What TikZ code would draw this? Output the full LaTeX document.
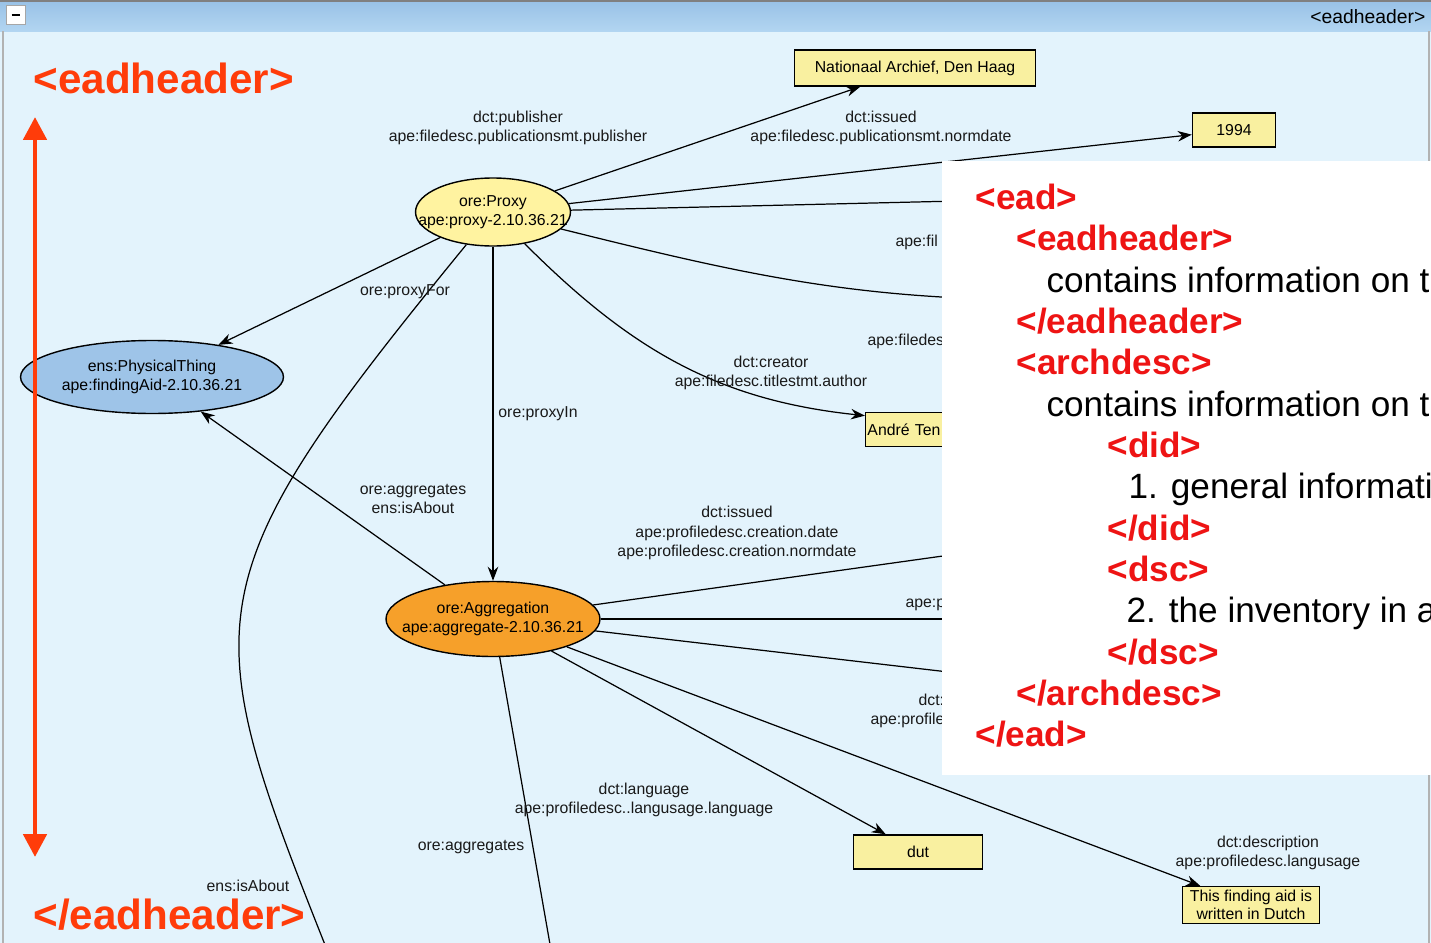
\documentclass[tikz,border=0pt]{standalone}
\usepackage{fontspec}
\setmainfont{Liberation Sans}
\usepackage{xcolor}
\usetikzlibrary{arrows.meta,shapes.geometric}

\definecolor{canvas}{HTML}{E3F3FC}
\definecolor{barTop}{HTML}{98C1E6}
\definecolor{barBottom}{HTML}{B2D5F1}
\definecolor{proxyYellow}{HTML}{FFF3A0}
\definecolor{literalYellow}{HTML}{F9F0A0}
\definecolor{thingBlue}{HTML}{9EC4E8}
\definecolor{aggrOrange}{HTML}{F6A02A}
\definecolor{slideRed}{HTML}{FF3C0A}
\definecolor{tagRed}{HTML}{EE1414}

\newcommand{\graphfont}{\fontsize{9}{11}\selectfont}

\begin{document}
\begin{tikzpicture}[x=0.02cm,y=-0.02cm,>={Stealth[length=8pt,width=6pt]},line width=0.7pt,
   resource/.style={ellipse,draw,line width=0.8pt,inner xsep=-12pt,inner ysep=0pt,align=center,font=\graphfont},
   literal value/.style={rectangle,draw,line width=0.8pt,fill=literalYellow,inner sep=1pt,align=center,font=\graphfont},
   edge label/.style={align=center,font=\graphfont,text=black!90,inner sep=0pt},
   slide tag/.style={font=\fontsize{24}{28}\selectfont\bfseries,text=slideRed,inner sep=0pt,anchor=west},
   ead text/.style={font=\fontsize{20}{24}\selectfont,inner sep=0pt,anchor=base west},
   ead tag/.style={ead text,font=\fontsize{20}{24}\selectfont\bfseries,text=tagRed}]

  % window
  \useasboundingbox (0,0) rectangle (1431,943);
  \clip (0,0) rectangle (1431,943);
  \fill[canvas] (0,0) rectangle (1431,943);
  \shade[top color=barTop,bottom color=barBottom] (0,0) rectangle (1431,31);
  \draw[gray,line width=1.2pt] (0,0.5) -- (1431,0.5);
  \draw[gray!60] (3,31) -- (3,943);
  \draw[gray!60] (1429,31) -- (1429,943);
  \node[draw=gray!70,fill=white,minimum width=0.38cm,minimum height=0.38cm,inner sep=0pt] (collapse) at (16,15) {\rule{5pt}{1.6pt}};
  \node[anchor=east,font=\fontsize{11}{13}\selectfont,inner sep=0pt] (barTitle) at (1426,17) {<eadheader>};

  % resources
  \node[resource,fill=proxyYellow,minimum width=3.1cm,minimum height=1.36cm] (proxy) at (493,212) {ore:Proxy\\ape:proxy-2.10.36.21};
  \node[resource,fill=thingBlue,minimum width=5.26cm,minimum height=1.46cm] (thing) at (152,377) {ens:PhysicalThing\\ape:findingAid-2.10.36.21};
  \node[resource,fill=aggrOrange,minimum width=4.28cm,minimum height=1.5cm] (aggr) at (493,619) {ore:Aggregation\\ape:aggregate-2.10.36.21};

  % literals
  \node[literal value,minimum width=4.82cm,minimum height=0.72cm] (archief) at (915,68) {Nationaal Archief, Den Haag};
  \node[literal value,minimum width=1.66cm,minimum height=0.68cm] (year) at (1234,130) {1994};
  \node[literal value,anchor=north west,minimum height=0.68cm,text width=2.8cm,align=left] (author) at (865,412) {André Ten};
  \node[literal value,minimum width=2.58cm,minimum height=0.68cm] (dut) at (918,852) {dut};
  \node[literal value,minimum width=2.74cm,minimum height=0.74cm,inner sep=0.5pt,font=\fontsize{9}{10.5}\selectfont] (langnote) at (1251,905) {This finding aid is\\written in Dutch};

  \coordinate (hidA) at (1000,200);
  \coordinate (hidB) at (1050,300);
  \coordinate (hidC) at (1000,548);
  \coordinate (hidD) at (1000,619);
  \coordinate (hidE) at (1000,678);
  \coordinate (aboutOut) at (343,990);
  \coordinate (aggrOut) at (558,990);

  \foreach \from/\to in {proxy/archief,proxy/year,proxy/thing,proxy/aggr,aggr/thing,aggr/dut,aggr/langnote}
    \draw[->] (\from) -- (\to);
  \foreach \from/\to in {proxy/hidA,aggr/hidC,aggr/hidD,aggr/hidE,aggr/aggrOut}
    \draw (\from) -- (\to);
  \draw (proxy) to[out=-14,in=180] (hidB);
  \draw[->] (proxy) to[out=-45,in=174] ([yshift=8pt]author.west);
  \draw (proxy) .. controls (179,596) and (195,618) .. (aboutOut);

  % edge labels
  \node[edge label] (lPublisher) at (518,128) {dct:publisher\\ape:filedesc.publicationsmt.publisher};
  \node[edge label] (lIssued) at (881,128) {dct:issued\\ape:filedesc.publicationsmt.normdate};
  \node[edge label] (lProxyFor) at (405,292) {ore:proxyFor};
  \node[edge label] (lProxyIn) at (538,414) {ore:proxyIn};
  \node[edge label] (lCreator) at (771,373) {dct:creator\\ape:filedesc.titlestmt.author};
  \node[edge label,anchor=west] (lHidA) at (895,242) {ape:fil};
  \node[edge label,anchor=west] (lHidB) at (867,341) {ape:filedes};
  \node[edge label] (lAggAbout) at (413,499) {ore:aggregates\\ens:isAbout};
  \node[edge label] (lCreation) at (737,533) {dct:issued\\ape:profiledesc.creation.date\\ape:profiledesc.creation.normdate};
  \node[edge label,anchor=west] (lHidD) at (905,605) {ape:p};
  \node[edge label,anchor=west] (lHidE1) at (918,700) {dct:};
  \node[edge label,anchor=west] (lHidE2) at (870,720) {ape:profile};
  \node[edge label] (lLanguage) at (644,800) {dct:language\\ape:profiledesc..langusage.language};
  \node[edge label] (lAggregates) at (471,847) {ore:aggregates};
  \node[edge label] (lDescription) at (1268,853) {dct:description\\ape:profiledesc.langusage};
  \node[edge label] (lAbout) at (248,886) {ens:isAbout};

  % ead structure panel
  \node[fill=white,anchor=north west,minimum width=9.9cm,minimum height=12.28cm,inner sep=0pt,outer sep=0pt] (panel) at (942,161) {};
  \node[ead tag] (t1) at (975,209) {<ead>};
  \node[ead tag] (t2) at (1016,250) {<eadheader>};
  \node[ead text] (t3) at (1046,292) {contains information on t};
  \node[ead tag] (t4) at (1016,333) {</eadheader>};
  \node[ead tag] (t5) at (1016,374) {<archdesc>};
  \node[ead text] (t6) at (1046,416) {contains information on t};
  \node[ead tag] (t7) at (1107,457) {<did>};
  \node[ead text] (t8) at (1128,498) {1. general informati};
  \node[ead tag] (t9) at (1107,540) {</did>};
  \node[ead tag] (t10) at (1107,581) {<dsc>};
  \node[ead text] (t11) at (1126,622) {2. the inventory in a};
  \node[ead tag] (t12) at (1107,664) {</dsc>};
  \node[ead tag] (t13) at (1016,705) {</archdesc>};
  \node[ead tag] (t14) at (975,746) {</ead>};

  % slide annotation
  \node[slide tag] (openTag) at (33,78) {<eadheader>};
  \node[slide tag] (closeTag) at (33,915) {</eadheader>};
  \coordinate (spanTop) at (35,117);
  \coordinate (spanBottom) at (35,857);
  \draw[slideRed,line width=2.8pt,{Triangle[length=13pt,width=13pt]}-{Triangle[length=13pt,width=13pt]}] (spanTop) -- (spanBottom);
\end{tikzpicture}
\end{document}
